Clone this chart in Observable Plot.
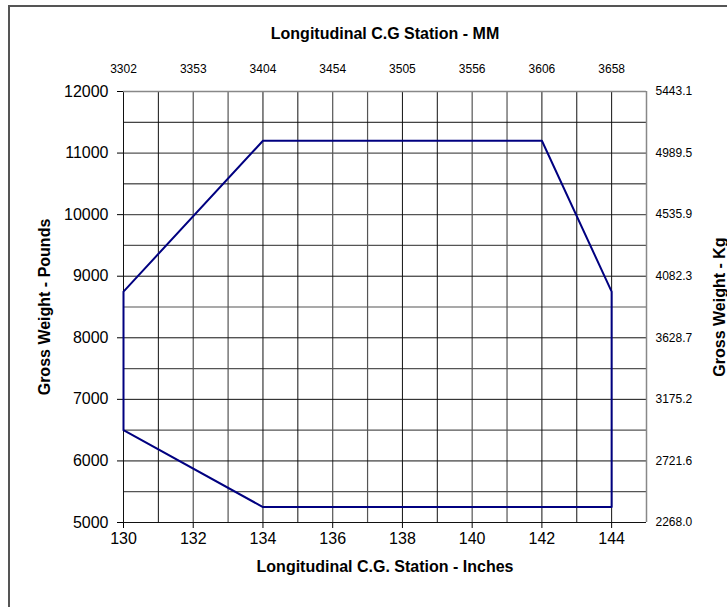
<!DOCTYPE html>
<html><head><meta charset="utf-8">
<script src="https://cdn.jsdelivr.net/npm/d3@7"></script>
<script src="https://cdn.jsdelivr.net/npm/@observablehq/plot@0.6"></script>
<style>
html,body{margin:0;padding:0;background:#fff;}
#wrap{position:relative;width:727px;height:607px;overflow:hidden;}
#wrap svg{position:absolute;left:0;top:0;}
#frame{position:absolute;left:8px;top:5px;width:1000px;height:1000px;border-left:2px solid #555;border-top:2px solid #555;pointer-events:none;}
</style></head><body><div id="wrap"><div id="frame"></div></div>
<script>
// Axis ticks and labels
const inchTicks = [130, 132, 134, 136, 138, 140, 142, 144];
const mmLabels = ["3302", "3353", "3404", "3454", "3505", "3556", "3606", "3658"];
const lbTicks = [5000, 6000, 7000, 8000, 9000, 10000, 11000, 12000];
const kgLabels = ["2268.0", "2721.6", "3175.2", "3628.7", "4082.3", "4535.9", "4989.5", "5443.1"];
// Grid lines
const gridInchesDark = [130, 131, 134, 135, 138, 139, 142, 143, 144];
const gridInchesGray = [132, 133, 136, 137, 140, 141];
const gridPoundsDark = [5000, 6000, 7000, 8000, 9000, 10500, 11500];
const gridPoundsGray = [5500, 6500, 7500, 8500, 9500, 10000, 11000];
// C.G. envelope
const envInches = [130, 130, 134, 142, 144, 144, 134, 130];
const envPounds = [6500, 8750, 11200, 11200, 8750, 5250, 5250, 6500];

const envelope = envInches.map((x, i) => ({x, y: envPounds[i]}));
const mmAxis = inchTicks.map((x, i) => ({x, label: mmLabels[i]}));
const kgAxis = lbTicks.map((y, i) => ({y, label: kgLabels[i]}));

const FONT = "'Liberation Sans', Arial, sans-serif";

const chart = Plot.plot({
  width: 727,
  height: 607,
  marginLeft: 123,
  marginRight: 81,
  marginTop: 91,
  marginBottom: 85,
  style: {fontFamily: FONT, fontSize: "16px", color: "black", background: "white", overflow: "visible"},
  x: {domain: [130, 145], axis: "bottom", ticks: inchTicks, tickSize: 6, tickPadding: 4, tickFormat: d => String(d), label: null},
  y: {domain: [5000, 12000], axis: "left", ticks: lbTicks, tickSize: 6, tickPadding: 9, tickFormat: d => String(d), label: null},
  marks: [
    Plot.ruleX(gridInchesGray, {x: d => d, stroke: "#555", strokeWidth: 1.2}),
    Plot.ruleY(gridPoundsGray, {y: d => d, stroke: "#555", strokeWidth: 1.2}),
    Plot.ruleX(gridInchesDark, {x: d => d, stroke: "#111", strokeWidth: 1}),
    Plot.ruleY(gridPoundsDark, {y: d => d, stroke: "#111", strokeWidth: 1}),
    Plot.ruleX([145], {x: d => d, stroke: "#888", strokeWidth: 1.5}),
    Plot.ruleY([12000], {y: d => d, stroke: "#888", strokeWidth: 1.5}),
    Plot.line(envelope, {x: "x", y: "y", stroke: "#000080", strokeWidth: 2}),
    Plot.text(mmAxis, {x: "x", text: "label", frameAnchor: "top", dy: -27, fontSize: 12, fill: "black"}),
    Plot.text(kgAxis, {y: "y", text: "label", frameAnchor: "right", dx: 9, textAnchor: "start", fontSize: 12, fill: "black"}),
    Plot.text(["Longitudinal C.G Station - MM"], {frameAnchor: "top", dy: -64, fontSize: 16, fontWeight: "bold", fill: "black"}),
    Plot.text(["Longitudinal C.G. Station - Inches"], {frameAnchor: "bottom", dy: 49, fontSize: 16, fontWeight: "bold", fill: "black"}),
    Plot.text(["Gross Weight - Pounds"], {frameAnchor: "left", dx: -79, rotate: -90, textAnchor: "middle", fontSize: 16, fontWeight: "bold", fill: "black"}),
    Plot.text(["Gross Weight - Kg"], {frameAnchor: "right", dx: 73, rotate: -90, textAnchor: "middle", fontSize: 16, fontWeight: "bold", fill: "black"})
  ]
});
document.getElementById("wrap").insertBefore(chart, document.getElementById("frame"));
</script>
</body></html>
